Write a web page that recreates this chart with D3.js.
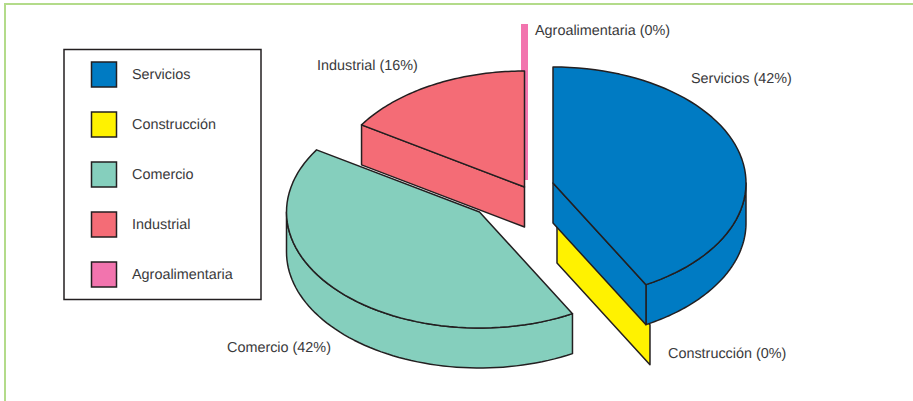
<!DOCTYPE html>
<html><head><meta charset="utf-8">
<script src="https://cdn.jsdelivr.net/npm/d3@7"></script>
<style>html,body{margin:0;padding:0;background:#fff}svg{display:block}text{font-family:"Liberation Sans",Arial,sans-serif;font-size:14.4px;fill:#3a3a3c;text-rendering:geometricPrecision}</style>
</head><body><svg id="c" width="913" height="401"></svg>
<script>
const categories = ["Servicios","Construcción","Comercio","Industrial","Agroalimentaria"];
const values = [42,0,42,16,0];
const colors = ["#007bc3","#fff200","#85cfbd","#f46c76","#f274ae"];
const labelAnchors = [[691,83],[668,358],[227,352],[317,70],[535,35]];
const apexes = [[553,183],[557,223],[479.5,212],[524.5,187],[524.5,140]];

const svg = d3.select("#c");
const INK = "#231f20";
const rx = 193, ry = 116, depth = 40;

// frame
svg.append("path").attr("d","M5,401V4H913").attr("fill","none").attr("stroke","#b3db8a").attr("stroke-width",2);

// legend
svg.append("rect").attr("x",64).attr("y",49.5).attr("width",197).attr("height",250)
  .attr("fill","#fff").attr("stroke",INK).attr("stroke-width",1.5);
const yLegend = d3.scalePoint().domain(categories).range([74.5,274.5]);
const lg = svg.append("g").selectAll("g").data(categories).join("g");
lg.append("rect").attr("x",91.5).attr("y",d=>yLegend(d)-12.5).attr("width",25).attr("height",25)
  .attr("fill",(d,i)=>colors[i]).attr("stroke",INK).attr("stroke-width",1.5);
lg.append("text").attr("x",132).attr("y",d=>yLegend(d)+4.5).text(d=>d);

// 3D exploded pie
const arcs = d3.pie().sort(null).value(d=>d)(values);
const proj = (i,a,z=0)=>[apexes[i][0]+rx*Math.sin(a), apexes[i][1]-ry*Math.cos(a)+z];
const line = d3.line();
const samples = (a0,a1)=>d3.range(0,61).map(k=>a0+(a1-a0)*k/60);
const R = Math.PI/180;
const st = {stroke:INK,"stroke-width":1.5,"stroke-linejoin":"round"};
function draw(d,fill){
  const p = svg.append("path").attr("d",d).attr("fill",fill);
  Object.entries(st).forEach(([k,v])=>p.attr(k,v));
  return p;
}
function cutFace(i,a){
  const c=apexes[i], e=proj(i,a);
  return line([c,e,[e[0],e[1]+depth],[c[0],c[1]+depth]])+"Z";
}
function topFace(i,a0,a1){ return line([apexes[i],...samples(a0,a1).map(a=>proj(i,a))])+"Z"; }
function wall(i,a0,a1){
  const s=samples(a0,a1);
  return line([...s.map(a=>proj(i,a)),...s.slice().reverse().map(a=>proj(i,a,depth))])+"Z";
}
const [sv,co,cm,ind,ag] = arcs;

// Agroalimentaria: zero-width slice, seen as a thin band behind Industrial
svg.append("path").attr("d",line([proj(4,ag.startAngle),[apexes[4][0],apexes[4][1]+depth]]))
  .attr("stroke",colors[4]).attr("stroke-width",7).attr("fill","none");

// Industrial
draw(cutFace(3,ind.startAngle),colors[3]);
draw(topFace(3,ind.startAngle,ind.endAngle),colors[3]);

// Construcción: zero-width slice
draw(cutFace(1,co.startAngle),colors[1]);

// Comercio
draw(wall(2,cm.startAngle,270*R),colors[2]);
draw(topFace(2,cm.startAngle,cm.endAngle),colors[2]);

// Servicios
draw(wall(0,90*R,sv.endAngle),colors[0]);
draw(cutFace(0,sv.endAngle),colors[0]);
draw(topFace(0,sv.startAngle,sv.endAngle),colors[0]);

// labels
svg.append("g").selectAll("text").data(categories).join("text")
  .attr("x",(d,i)=>labelAnchors[i][0]).attr("y",(d,i)=>labelAnchors[i][1])
  .text((d,i)=>`${d} (${values[i]}%)`);
</script></body></html>
